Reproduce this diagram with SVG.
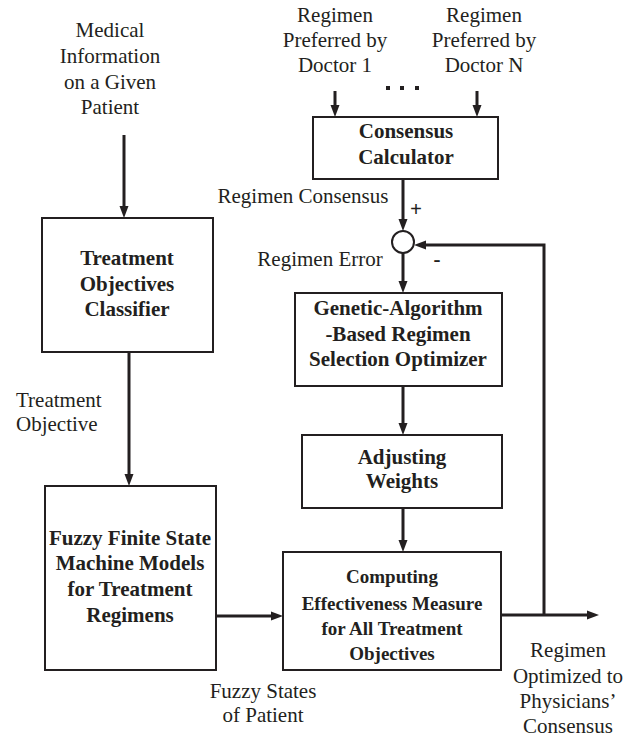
<svg xmlns="http://www.w3.org/2000/svg" width="638" height="738" viewBox="0 0 638 738">
<defs>
<marker id="ah" viewBox="0 0 12 10" markerWidth="12" markerHeight="10" markerUnits="userSpaceOnUse" refX="4" refY="5" orient="auto">
<path d="M0,0.5 L12,5 L0,9.5 z" fill="#231f20"/>
</marker>
<style>
.box{fill:#fff;stroke:#231f20;stroke-width:2}
text{font-family:'Liberation Serif','DejaVu Serif',serif}
.t{font-size:21px;fill:#231f20;text-anchor:middle}
.b{font-weight:bold}
.s{font-size:19px}
.l{text-anchor:start}
.c{fill:none;stroke:#231f20;stroke-width:3;marker-end:url(#ah)}
</style>
</defs>
<rect width="638" height="738" fill="#fff"/>

<g id="connectors">
<line class="c" x1="124" y1="135" x2="124" y2="210"/>
<line class="c" x1="129" y1="352" x2="129" y2="478"/>
<line class="c" x1="216" y1="616" x2="275" y2="616"/>
<line class="c" x1="335" y1="91" x2="335" y2="109"/>
<line class="c" x1="477" y1="91" x2="477" y2="109"/>
<line class="c" x1="403" y1="179" x2="403" y2="223"/>
<line class="c" x1="403" y1="253" x2="403" y2="285"/>
<line class="c" x1="403" y1="386" x2="403" y2="427"/>
<line class="c" x1="403" y1="508" x2="403" y2="544"/>
<line class="c" x1="501" y1="615" x2="591" y2="615"/>
<polyline class="c" points="544,615 544,245 422,245"/>
</g>

<g id="dots" fill="#231f20">
<rect x="386" y="86" width="4" height="4"/>
<rect x="400" y="86" width="4" height="4"/>
<rect x="415" y="86" width="4" height="4"/>
</g>

<g id="text-labels" font-family="Liberation Serif, DejaVu Serif, serif">
<g id="medical-info">
<text class="t" x="110" y="37">Medical</text>
<text class="t" x="110" y="63">Information</text>
<text class="t" x="110" y="89">on a Given</text>
<text class="t" x="110" y="114">Patient</text>
</g>

<g id="doctor1">
<text class="t" x="335" y="22">Regimen</text>
<text class="t" x="335" y="47">Preferred by</text>
<text class="t" x="335" y="72">Doctor 1</text>
</g>

<g id="doctorN">
<text class="t" x="484" y="22">Regimen</text>
<text class="t" x="484" y="47">Preferred by</text>
<text class="t" x="484" y="72">Doctor N</text>
</g>

<g id="labels">
<text class="t" x="303" y="203">Regimen Consensus</text>
<text class="t" x="320" y="266">Regimen Error</text>
<text class="t l" x="16" y="407">Treatment</text>
<text class="t l" x="16" y="431">Objective</text>
<text class="t" x="263" y="698">Fuzzy States</text>
<text class="t" x="263" y="722">of Patient</text>
<text class="t" x="568" y="657">Regimen</text>
<text class="t" x="568" y="683">Optimized to</text>
<text class="t" x="568" y="708">Physicians’</text>
<text class="t" x="568" y="733">Consensus</text>
</g>
</g>

<g id="consensus-calculator" font-family="Liberation Serif, DejaVu Serif, serif">
<rect class="box" x="313" y="117" width="185" height="62"/>
<text class="t b" x="406" y="138">Consensus</text>
<text class="t b" x="406" y="164">Calculator</text>
</g>

<g id="summing-junction" font-family="Liberation Serif, DejaVu Serif, serif">
<circle cx="403" cy="242" r="11" fill="#fff" stroke="#231f20" stroke-width="2"/>
<text class="t b" x="416" y="216">+</text>
<text class="t b" x="437" y="266">-</text>
</g>

<g id="classifier" font-family="Liberation Serif, DejaVu Serif, serif">
<rect class="box" x="42" y="218" width="171" height="134"/>
<text class="t b" x="127" y="265">Treatment</text>
<text class="t b" x="127" y="291">Objectives</text>
<text class="t b" x="127" y="316">Classifier</text>
</g>

<g id="fuzzy-fsm" font-family="Liberation Serif, DejaVu Serif, serif">
<rect class="box" x="45" y="486" width="171" height="184"/>
<text class="t b" x="130" y="545">Fuzzy Finite State</text>
<text class="t b" x="130" y="570">Machine Models</text>
<text class="t b" x="130" y="596">for Treatment</text>
<text class="t b" x="130" y="622">Regimens</text>
</g>

<g id="ga-optimizer" font-family="Liberation Serif, DejaVu Serif, serif">
<rect class="box" x="295" y="293" width="207" height="93"/>
<text class="t b" x="398" y="315">Genetic-Algorithm</text>
<text class="t b" x="398" y="341">-Based Regimen</text>
<text class="t b" x="398" y="366">Selection Optimizer</text>
</g>

<g id="adjusting-weights" font-family="Liberation Serif, DejaVu Serif, serif">
<rect class="box" x="302" y="435" width="200" height="73"/>
<text class="t b" x="402" y="464">Adjusting</text>
<text class="t b" x="402" y="488">Weights</text>
</g>

<g id="computing-effectiveness" font-family="Liberation Serif, DejaVu Serif, serif">
<rect class="box" x="283" y="552" width="218" height="118"/>
<text class="t b s" x="392" y="583">Computing</text>
<text class="t b s" x="392" y="610">Effectiveness Measure</text>
<text class="t b s" x="392" y="635">for All Treatment</text>
<text class="t b s" x="392" y="660">Objectives</text>
</g>
</svg>
